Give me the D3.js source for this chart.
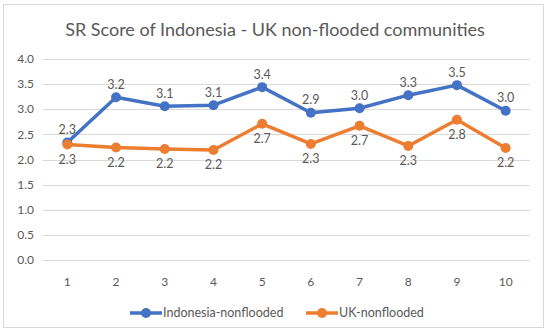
<!DOCTYPE html>
<html>
<head>
<meta charset="utf-8">
<script src="https://cdn.jsdelivr.net/npm/d3@7"></script>
<style>
	body { margin: 0; background: white; }
	svg { display: block; }
	text { font-family: Lato, "Open Sans", sans-serif; fill: #595959; }
</style>
</head>
<body>
<script>
const TITLE = "SR Score of Indonesia - UK non-flooded communities";
const categories = ["1", "2", "3", "4", "5", "6", "7", "8", "9", "10"];
const indonesia = [2.34, 3.24, 3.06, 3.08, 3.44, 2.93, 3.02, 3.28, 3.48, 2.97];
const uk = [2.30, 2.24, 2.21, 2.19, 2.71, 2.31, 2.67, 2.27, 2.79, 2.23];
const yTicks = [0, 0.5, 1, 1.5, 2, 2.5, 3, 3.5, 4];

const BLUE = "#4472C4";
const ORANGE = "#ED7D31";
const GRID = "#d9d9d9";

const W = 550, H = 334;

const svg = d3.select("body").append("svg")
	.attr("width", W)
	.attr("height", H);

// chart frame
svg.append("rect")
	.attr("x", 3.5).attr("y", 4.5)
	.attr("width", 540).attr("height", 323)
	.attr("fill", "white")
	.attr("stroke", GRID);

svg.append("text")
	.attr("x", 275).attr("y", 36)
	.attr("text-anchor", "middle")
	.attr("font-size", 18)
	.text(TITLE);

const x = d3.scalePoint()
	.domain(categories)
	.range([43, 530])
	.padding(0.5);

const y = d3.scaleLinear()
	.domain([0, 4])
	.range([260, 59]);

// gridlines
svg.append("g")
	.selectAll("line")
	.data(yTicks)
	.join("line")
	.attr("x1", 43).attr("x2", 530)
	.attr("y1", d => Math.round(y(d)) + 0.5)
	.attr("y2", d => Math.round(y(d)) + 0.5)
	.attr("stroke", GRID);

// y labels
svg.append("g")
	.selectAll("text")
	.data(yTicks)
	.join("text")
	.attr("x", 34)
	.attr("y", d => y(d))
	.attr("dy", "0.35em")
	.attr("text-anchor", "end")
	.attr("font-size", 12)
	.text(d => d.toFixed(1));

// x labels
svg.append("g")
	.selectAll("text")
	.data(categories)
	.join("text")
	.attr("x", d => x(d))
	.attr("y", 282)
	.attr("dy", "0.35em")
	.attr("text-anchor", "middle")
	.attr("font-size", 12)
	.text(d => d);

const series = [
	{ name: "Indonesia-nonflooded", values: indonesia, color: BLUE, above: true },
	{ name: "UK-nonflooded", values: uk, color: ORANGE, above: false }
];

const line = d3.line()
	.x((d, i) => x(categories[i]))
	.y(d => y(d));

for (const s of series) {
	const g = svg.append("g");
	g.append("path")
		.attr("d", line(s.values))
		.attr("fill", "none")
		.attr("stroke", s.color)
		.attr("stroke-width", 3.5)
		.attr("stroke-linejoin", "round");
	g.selectAll("circle")
		.data(s.values)
		.join("circle")
		.attr("cx", (d, i) => x(categories[i]))
		.attr("cy", d => y(d))
		.attr("r", 5)
		.attr("fill", s.color);
	g.selectAll("text")
		.data(s.values)
		.join("text")
		.attr("x", (d, i) => x(categories[i]))
		.attr("y", d => y(d) + (s.above ? -13 : 15))
		.attr("dy", "0.35em")
		.attr("text-anchor", "middle")
		.attr("font-size", 12.5)
		.attr("fill", "#404040")
		.text(d => d.toFixed(1));
}

// legend
const legendX = [130, 306];
const legend = svg.append("g")
	.selectAll("g")
	.data(series)
	.join("g")
	.attr("transform", (d, i) => `translate(${legendX[i]},313)`);
legend.append("line")
	.attr("x1", 0).attr("x2", 32)
	.attr("stroke", d => d.color)
	.attr("stroke-width", 3.5);
legend.append("circle")
	.attr("cx", 16).attr("r", 5)
	.attr("fill", d => d.color);
legend.append("text")
	.attr("x", 33)
	.attr("dy", "0.35em")
	.attr("font-size", 12.5)
	.text(d => d.name);
</script>
</body>
</html>
